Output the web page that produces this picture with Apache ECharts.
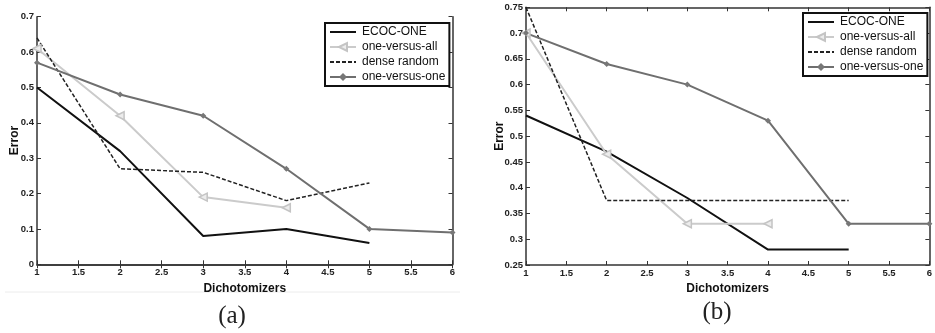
<!DOCTYPE html>
<html>
<head>
<meta charset="utf-8">
<script src="https://cdn.jsdelivr.net/npm/echarts@6/dist/echarts.min.js"></script>
<style>
  html, body { margin: 0; padding: 0; background: #fff; }
  #chart { width: 935px; height: 333px; }
</style>
</head>
<body>
<div id="chart"></div>
<script>
// Number of dichotomizers on the x axis
const dichotomizers = [1, 2, 3, 4, 5, 6];

// Panel (a) error rates
const ecocOneA = [0.50, 0.32, 0.08, 0.10, 0.06];
const oneVsAllA = [0.61, 0.42, 0.19, 0.16];
const denseRandomA = [0.64, 0.27, 0.26, 0.18, 0.23];
const oneVsOneA = [0.57, 0.48, 0.42, 0.27, 0.10, 0.09];

// Panel (b) error rates
const ecocOneB = [0.54, 0.47, 0.38, 0.28, 0.28];
const oneVsAllB = [0.70, 0.465, 0.33, 0.33];
const denseRandomB = [0.75, 0.375, 0.375, 0.375, 0.375];
const oneVsOneB = [0.70, 0.64, 0.60, 0.53, 0.33, 0.33];

const seriesNames = ['ECOC-ONE', 'one-versus-all', 'dense random', 'one-versus-one'];
const panelLabels = ['(a)', '(b)'];

const pairs = vals => vals.map((v, i) => [dichotomizers[i], v]);

const tickFont = { fontFamily: 'Liberation Sans, Arial, sans-serif', fontSize: 9.5, fontWeight: 'bold', color: '#222' };
const nameFont = { fontFamily: 'Liberation Sans, Arial, sans-serif', fontSize: 12, fontWeight: 'bold', color: '#111' };

function makeSeries(gridIdx, ecoc, ova, dense, ovo) {
  const axes = { xAxisIndex: gridIdx * 2, yAxisIndex: gridIdx * 2 };
  return [
    Object.assign({
      name: seriesNames[0], type: 'line', data: pairs(ecoc), symbol: 'none',
      lineStyle: { color: '#111', width: 2 }, itemStyle: { color: '#111' }
    }, axes),
    Object.assign({
      name: seriesNames[1], type: 'line', data: pairs(ova), symbol: 'triangle',
      symbolSize: 8, symbolRotate: 90, showAllSymbol: true,
      lineStyle: { color: '#cbcbcb', width: 2 },
      itemStyle: { color: '#ececec', borderColor: '#c4c4c4', borderWidth: 1.5 }
    }, axes),
    Object.assign({
      name: seriesNames[2], type: 'line', data: pairs(dense), symbol: 'none',
      lineStyle: { color: '#222', width: 1.5, type: [4, 2] }, itemStyle: { color: '#222' }
    }, axes),
    Object.assign({
      name: seriesNames[3], type: 'line', data: pairs(ovo), symbol: 'diamond',
      symbolSize: 6, showAllSymbol: true,
      lineStyle: { color: '#6f6f6f', width: 2 }, itemStyle: { color: '#777' }
    }, axes)
  ];
}

function makeAxes(gridIdx, yMin, yMax, yInterval, yNameGap) {
  const tick = { show: true, inside: true, length: 4, lineStyle: { color: '#333', width: 1 } };
  const line = { show: true, lineStyle: { color: '#333', width: 1.5 } };
  const x = [
    { gridIndex: gridIdx, type: 'value', min: 1, max: 6, interval: 0.5, position: 'bottom',
      axisLine: line, axisTick: tick, splitLine: { show: false },
      axisLabel: Object.assign({ margin: 3 }, tickFont),
      name: 'Dichotomizers', nameLocation: 'middle', nameGap: 11, nameTextStyle: nameFont },
    { gridIndex: gridIdx, type: 'value', min: 1, max: 6, interval: 0.5, position: 'top',
      axisLine: line, axisTick: tick, splitLine: { show: false }, axisLabel: { show: false } }
  ];
  const y = [
    { gridIndex: gridIdx, type: 'value', min: yMin, max: yMax, interval: yInterval, position: 'left',
      axisLine: line, axisTick: tick, splitLine: { show: false },
      axisLabel: Object.assign({ margin: 3 }, tickFont),
      name: 'Error', nameLocation: 'middle', nameGap: yNameGap, nameMoveOverlap: false,
      nameTextStyle: nameFont },
    { gridIndex: gridIdx, type: 'value', min: yMin, max: yMax, interval: yInterval, position: 'right',
      axisLine: line, axisTick: tick, splitLine: { show: false }, axisLabel: { show: false } }
  ];
  return { x, y };
}

const axesA = makeAxes(0, 0, 0.7, 0.1, 16);
const axesB = makeAxes(1, 0.25, 0.75, 0.05, 20);

// Plain-line entries hide the legend marker so only the stroke shows
const legendItems = seriesNames.map((name, i) =>
  (i === 0 || i === 2) ? { name: name, itemStyle: { opacity: 0 } } : { name: name });

const legendBase = {
  orient: 'vertical', data: legendItems, itemWidth: 26, itemHeight: 10, itemGap: 3,
  borderColor: '#111', borderWidth: 2, backgroundColor: '#fff', padding: [3, 4, 3, 4],
  selectedMode: false,
  textStyle: { fontFamily: 'Liberation Sans, Arial, sans-serif', fontSize: 12, color: '#111', padding: [0, 0, 0, 1] }
};

const chart = echarts.init(document.getElementById('chart'), null, { renderer: 'canvas' });
chart.setOption({
  animation: false,
  backgroundColor: '#fff',
  grid: [
    { left: 37, right: 482.5, top: 16.7, bottom: 68.7 },
    { left: 526, right: -1.5, top: 7.3, bottom: 68 }
  ],
  xAxis: axesA.x.concat(axesB.x),
  yAxis: axesA.y.concat(axesB.y),
  legend: [
    Object.assign({ left: 325, top: 23 }, legendBase),
    Object.assign({ left: 803, top: 13 }, legendBase)
  ],
  series: makeSeries(0, ecocOneA, oneVsAllA, denseRandomA, oneVsOneA)
    .concat(makeSeries(1, ecocOneB, oneVsAllB, denseRandomB, oneVsOneB)),
  graphic: [
    { type: 'line', shape: { x1: 5, y1: 292, x2: 460, y2: 292 }, style: { stroke: '#ececec', lineWidth: 1 } },
    { type: 'text', x: 232, y: 316, style: { text: panelLabels[0], font: '25px "Liberation Serif", serif', fill: '#222', align: 'center', verticalAlign: 'middle' } },
    { type: 'text', x: 717, y: 312, style: { text: panelLabels[1], font: '25px "Liberation Serif", serif', fill: '#222', align: 'center', verticalAlign: 'middle' } }
  ]
});
</script>
</body>
</html>
